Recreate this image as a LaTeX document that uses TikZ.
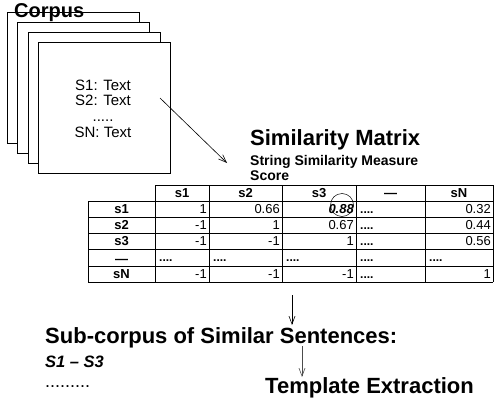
\documentclass[tikz,border=0pt]{standalone}
\usepackage{fontspec}
\setmainfont{Liberation Sans}
\usetikzlibrary{arrows.meta}

\begin{document}
\begin{tikzpicture}[x=1pt,y=-1pt,
  every node/.style={inner sep=0pt},
  page/.style={draw,fill=white,line width=0.8pt,minimum width=132pt,minimum height=131pt,anchor=north west},
  line/.style={font=\fontsize{15}{15}\selectfont,anchor=base},
  title/.style={font=\fontsize{22}{22}\selectfont\bfseries,anchor=base west},
  subtitle/.style={font=\fontsize{14}{14}\selectfont\bfseries,anchor=base west},
  hdr/.style={font=\fontsize{13}{13}\selectfont\bfseries,anchor=base},
  num/.style={font=\fontsize{13}{13}\selectfont,anchor=base east},
  dots/.style={font=\fontsize{12}{12}\selectfont\bfseries,anchor=base west},
  grid/.style={line width=0.8pt},
  link/.style={-{Straight Barb[length=8pt,width=6pt]},line width=0.6pt},
  ]
\useasboundingbox (0,0) rectangle (494,398);

% stack of corpus pages, back to front
\foreach \i in {0,...,3}
  \node[page] (page\i) at ({7+10.4*\i},{12+10*\i}) {};
\node[title,font=\fontsize{20}{20}\selectfont\bfseries] (corpus) at (14,18) {Corpus};
\node[line] (l1) at (103,91) {S1: Text};
\node[line] (l2) at (103,106) {S2: Text};
\node[line] (l3) at (103,122) {.....};
\node[line] (l4) at (103,138) {SN: Text};

\coordinate (c-out) at (160,98);
\coordinate (m-in) at (227,163);
\draw[link] (c-out) -- (m-in);

\node[title] (matrix) at (250,146) {Similarity Matrix};
\node[subtitle] (measure) at (250,165) {String Similarity Measure};
\node[subtitle] (score) at (250,180) {Score};

% table grid
\draw[grid] (155,185) -- (493,185);
\foreach \y in {201,217,233,249,266,282}
  \draw[grid] (88,\y) -- (493,\y);
\draw[grid] (88,201) -- (88,282);
\foreach \x in {155,209,282,356,425,493}
  \draw[grid] (\x,185) -- (\x,282);

% column and row headers
\foreach \t/\x [count=\c] in {s1/182,s2/245.5,s3/319,---/390.5,sN/459}
  \node[hdr] (col\c) at (\x,197) {\t};
\foreach \t/\y [count=\r] in {s1/213,s2/229,s3/245,---/263,sN/278}
  \node[hdr] (row\r) at (121.5,\y) {\t};

% scores
\foreach \v/\x [count=\c] in {1/209,0.66/282,{\bfseries\itshape 0.88}/356,0.32/493}
  \node[num] (a1-\c) at (\x-2,213) {\v};
\foreach \v/\x [count=\c] in {-1/209,1/282,0.67/356,0.44/493}
  \node[num] (a2-\c) at (\x-2,229) {\v};
\foreach \v/\x [count=\c] in {-1/209,-1/282,1/356,0.56/493}
  \node[num] (a3-\c) at (\x-2,245) {\v};
\foreach \v/\x [count=\c] in {-1/209,-1/282,-1/356,1/493}
  \node[num] (a5-\c) at (\x-2,278) {\v};
\foreach \y [count=\r] in {213,229,245,278}
  \node[dots] (d\r) at (360,\y) {....};
\foreach \x [count=\c] in {159,213,286,360,429}
  \node[dots] (e\c) at (\x,261.5) {....};
\draw[line width=0.5pt] (342,205) circle (11.5);

\coordinate (t-out) at (292,295);
\coordinate (s-in) at (292,325);
\draw[link] (t-out) -- (s-in);

\node[title] (sub) at (45,343) {Sub-corpus of Similar Sentences:};
\node[subtitle,font=\fontsize{16.5}{16.5}\selectfont\bfseries\itshape] (pair) at (45,367) {S1 -- S3};
\node[line,anchor=base west,font=\fontsize{18}{18}\selectfont] (more) at (45,387) {.........};

\coordinate (s-out) at (302,346);
\coordinate (x-in) at (302,377);
\draw[link,draw=black!70] (s-out) -- (x-in);
\node[title] (extract) at (265,393) {Template Extraction};
\end{tikzpicture}
\end{document}
